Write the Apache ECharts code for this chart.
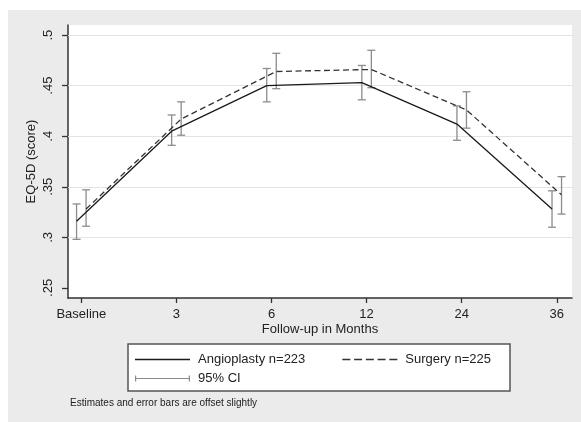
<!DOCTYPE html>
<html>
<head>
<meta charset="utf-8">
<script src="https://cdn.jsdelivr.net/npm/echarts@6/dist/echarts.min.js"></script>
<style>html,body{margin:0;padding:0;background:#fff;}#c{width:581px;height:422px;}</style>
</head>
<body>
<div id="c"></div>
<script>
var categories = ['Baseline', '3', '6', '12', '24', '36'];
var angioMean = [0.316, 0.405, 0.450, 0.453, 0.412, 0.328];
var angioLow  = [0.298, 0.391, 0.434, 0.436, 0.396, 0.310];
var angioHigh = [0.333, 0.421, 0.467, 0.470, 0.430, 0.346];
var surgMean  = [0.328, 0.417, 0.464, 0.466, 0.426, 0.342];
var surgLow   = [0.311, 0.401, 0.447, 0.448, 0.408, 0.323];
var surgHigh  = [0.347, 0.434, 0.482, 0.485, 0.444, 0.360];
var yTicks = [0.25, 0.3, 0.35, 0.4, 0.45, 0.5];
var yTickLabels = ['.25', '.3', '.35', '.4', '.45', '.5'];
var gridValues = [0.3, 0.35, 0.4, 0.45, 0.5];
var angioOffset = -0.05, surgOffset = 0.05;

var xIdx = categories.map(function (c, i) { return i; });
function pts(mean, off) { return mean.map(function (v, i) { return [i + off, v]; }); }
function bars(lo, hi, off) { return lo.map(function (v, i) { return [i + off, v, hi[i]]; }); }

function renderBar(params, api) {
  var x = api.value(0);
  var p1 = api.coord([x, api.value(1)]);
  var p2 = api.coord([x, api.value(2)]);
  var w = 4;
  var st = { stroke: '#8c8c8c', lineWidth: 1.3 };
  return { type: 'group', children: [
    { type: 'line', shape: { x1: p1[0], y1: p1[1], x2: p2[0], y2: p2[1] }, style: st },
    { type: 'line', shape: { x1: p1[0] - w, y1: p1[1], x2: p1[0] + w, y2: p1[1] }, style: st },
    { type: 'line', shape: { x1: p2[0] - w, y1: p2[1], x2: p2[0] + w, y2: p2[1] }, style: st }
  ]};
}

var solidIcon = 'path://M0,6.3h54v1.4h-54z';
var dashIcon = 'path://M0,6.3h8v1.4h-8z M11.75,6.3h8v1.4h-8z M23.5,6.3h8v1.4h-8z M35.25,6.3h8v1.4h-8z M47,6.3h8v1.4h-8z';
var ciIcon = 'path://M0,0h1.2v6h-1.2z M0,2.5h55v1h-55z M53.8,0h1.2v6h-1.2z';

var font = 'Liberation Sans, Arial, sans-serif';
var chart = echarts.init(document.getElementById('c'));
chart.setOption({
  backgroundColor: '#ffffff',
  animation: false,
  textStyle: { fontFamily: font },
  graphic: [
    { type: 'rect', z: -10, shape: { x: 8, y: 10, width: 573, height: 412 }, style: { fill: '#ebebeb' } },
    { type: 'rect', z: 1, shape: { x: 128, y: 344, width: 382, height: 47 }, style: { fill: '#ffffff', stroke: '#555555', lineWidth: 1.5 } }
  ],
  title: {
    text: 'Estimates and error bars are offset slightly',
    left: 70, top: 398, padding: 0,
    textStyle: { fontSize: 10, fontWeight: 'normal', color: '#222', fontFamily: font }
  },
  grid: { left: 68, top: 25, right: 9, bottom: 124, show: true, backgroundColor: '#ffffff', borderWidth: 0 },
  legend: [
    {
      left: 135, top: 353, padding: 0, itemWidth: 55, itemHeight: 14, itemGap: 37,
      data: [{ name: 'Angioplasty n=223', icon: solidIcon }, { name: 'Surgery n=225', icon: dashIcon }],
      textStyle: { fontSize: 13, color: '#222', fontFamily: font, padding: [0, 0, 0, 3] }
    },
    {
      left: 135, top: 372, padding: 0, itemWidth: 55, itemHeight: 6,
      data: [{ name: '95% CI', icon: ciIcon }],
      textStyle: { fontSize: 13, color: '#222', fontFamily: font, padding: [0, 0, 0, 3] }
    }
  ],
  xAxis: {
    type: 'value', min: -0.14, max: 5.16,
    name: 'Follow-up in Months', nameLocation: 'middle', nameGap: 25, nameMoveOverlap: false,
    nameTextStyle: { fontSize: 13, color: '#222', fontFamily: font },
    axisLine: { show: true, onZero: false, lineStyle: { color: '#333', width: 1.5 } },
    axisTick: { show: true, length: 5, customValues: xIdx, lineStyle: { color: '#333', width: 1.3 } },
    axisLabel: { customValues: xIdx, margin: 10, fontSize: 13, color: '#222', fontFamily: font,
      formatter: function (v) { return categories[Math.round(v)]; } },
    splitLine: { show: false }
  },
  yAxis: {
    type: 'value', min: 0.24, max: 0.51,
    name: 'EQ-5D (score)', nameLocation: 'middle', nameGap: 30, nameMoveOverlap: false,
    nameTextStyle: { fontSize: 13, color: '#222', fontFamily: font },
    axisLine: { show: true, onZero: false, lineStyle: { color: '#333', width: 1.5 } },
    axisTick: { show: true, length: 6, customValues: yTicks, lineStyle: { color: '#333', width: 1.3 } },
    axisLabel: { customValues: yTicks, rotate: 90, margin: 13, fontSize: 13, color: '#222', fontFamily: font,
      formatter: function (v) { var i = yTicks.findIndex(function (t) { return Math.abs(t - v) < 1e-6; }); return i >= 0 ? yTickLabels[i] : ''; } },
    splitLine: { show: false }
  },
  series: [
    {
      name: 'Angioplasty n=223', type: 'line', z: 4, symbol: 'none',
      data: pts(angioMean, angioOffset),
      itemStyle: { color: '#1a1a1a' },
      lineStyle: { color: '#1a1a1a', width: 1.3 },
      markLine: {
        silent: true, symbol: 'none', label: { show: false }, z: 1,
        lineStyle: { color: '#e4e4e4', width: 1, type: 'solid' },
        data: gridValues.map(function (v) { return { yAxis: v }; })
      }
    },
    {
      name: 'Surgery n=225', type: 'line', z: 4, symbol: 'none',
      data: pts(surgMean, surgOffset),
      itemStyle: { color: '#333' },
      lineStyle: { color: '#333', width: 1.3, type: [6, 3.5] }
    },
    {
      name: '95% CI', type: 'custom', z: 3, renderItem: renderBar,
      itemStyle: { color: '#8c8c8c' },
      encode: { x: 0, y: [1, 2] },
      data: bars(angioLow, angioHigh, angioOffset)
    },
    {
      name: '95% CI', type: 'custom', z: 3, renderItem: renderBar,
      itemStyle: { color: '#8c8c8c' },
      encode: { x: 0, y: [1, 2] },
      data: bars(surgLow, surgHigh, surgOffset)
    }
  ]
});
</script>
</body>
</html>
